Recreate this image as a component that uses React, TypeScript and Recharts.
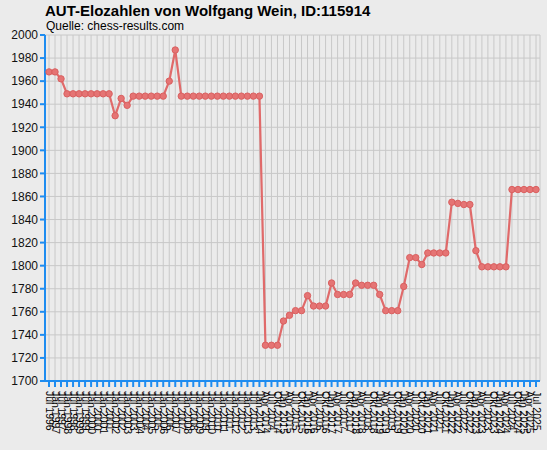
import { LineChart, Line, XAxis, YAxis, CartesianGrid } from 'recharts';

// rating list dates (half-yearly until 2014, then quarterly)
const LABELS = [
  'Jul 1996', 'Jan 1997', 'Jul 1997', 'Jan 1998', 'Jul 1998', 'Jan 1999', 'Jul 1999', 'Jan 2000',
  'Jul 2000', 'Jan 2001', 'Jul 2001', 'Jan 2002', 'Jul 2002', 'Jan 2003', 'Jul 2003', 'Jan 2004',
  'Jul 2004', 'Jan 2005', 'Jul 2005', 'Jan 2006', 'Jul 2006', 'Jan 2007', 'Jul 2007', 'Jan 2008',
  'Jul 2008', 'Jan 2009', 'Jul 2009', 'Jan 2010', 'Jul 2010', 'Jan 2011', 'Jul 2011', 'Jan 2012',
  'Jul 2012', 'Jan 2013', 'Jul 2013', 'Jan 2014',
  'Apr 2014', 'Jul 2014', 'Okt 2014', 'Jan 2015', 'Apr 2015', 'Jul 2015', 'Okt 2015', 'Jan 2016',
  'Apr 2016', 'Jul 2016', 'Okt 2016', 'Jan 2017', 'Apr 2017', 'Jul 2017', 'Okt 2017', 'Jan 2018',
  'Apr 2018', 'Jul 2018', 'Okt 2018', 'Jan 2019', 'Apr 2019', 'Jul 2019', 'Okt 2019', 'Jan 2020',
  'Apr 2020', 'Jul 2020', 'Okt 2020', 'Jan 2021', 'Apr 2021', 'Jul 2021', 'Okt 2021', 'Jan 2022',
  'Apr 2022', 'Jul 2022', 'Okt 2022', 'Jan 2023', 'Apr 2023', 'Jul 2023', 'Okt 2023', 'Jan 2024',
  'Apr 2024', 'Jul 2024', 'Okt 2024', 'Jan 2025', 'Apr 2025', 'Jul 2025',
];

const ELO = [
  1968, 1968, 1962, 1949, 1949, 1949, 1949, 1949, 1949, 1949, 1949, 1930, 1945, 1939, 1947, 1947,
  1947, 1947, 1947, 1947, 1960, 1987, 1947, 1947, 1947, 1947, 1947, 1947, 1947, 1947, 1947, 1947,
  1947, 1947, 1947, 1947,
  1731, 1731, 1731, 1752, 1757, 1761, 1761, 1774, 1765, 1765, 1765, 1785, 1775, 1775, 1775, 1785,
  1783, 1783, 1783, 1775, 1761, 1761, 1761, 1782, 1807, 1807, 1801, 1811, 1811, 1811, 1811, 1855,
  1854, 1853, 1853, 1813, 1799, 1799, 1799, 1799, 1799, 1866, 1866, 1866, 1866, 1866,
];

const Y_TICKS = [1700, 1720, 1740, 1760, 1780, 1800, 1820, 1840, 1860, 1880, 1900, 1920, 1940, 1960, 1980, 2000];

const data = LABELS.map((label, i) => ({ label, elo: ELO[i] }));

const AXIS_BLUE = '#1e8cf0';
const FONT = '"Liberation Sans", Arial, sans-serif';

const DateTick = ({ x, y, payload }: any) => (
  <g transform={`translate(${x},${y})`}>
    <text x={2} y={0} dy={3.5} transform="rotate(90)" textAnchor="start" fontSize={10.5} fill="#000" fontFamily={FONT}>
      {payload.value}
    </text>
  </g>
);

export default function App() {
  return (
    <div style={{ position: 'absolute', left: 0, top: 0, width: 547, height: 450, background: '#ebebeb', fontFamily: FONT }}>
      <div style={{ position: 'absolute', left: 45, top: 2, fontSize: 15, fontWeight: 'bold', color: '#000' }}>
        AUT-Elozahlen von Wolfgang Wein, ID:115914
      </div>
      <div style={{ position: 'absolute', left: 46, top: 19, fontSize: 12, color: '#000' }}>
        Quelle: chess-results.com
      </div>
      <LineChart width={547} height={450} data={data} margin={{ top: 35, right: 7, bottom: 0, left: 0 }}>
        <CartesianGrid stroke="#c8c8c8" strokeWidth={1} />
        <XAxis
          dataKey="label"
          interval={0}
          padding={{ left: 4, right: 4 }}
          height={69}
          tick={<DateTick />}
          tickSize={6}
          axisLine={{ stroke: AXIS_BLUE, strokeWidth: 2 }}
          tickLine={{ stroke: AXIS_BLUE, strokeWidth: 2 }}
        />
        <YAxis
          domain={[1700, 2000]}
          ticks={Y_TICKS}
          interval={0}
          width={45}
          tickSize={5}
          axisLine={{ stroke: AXIS_BLUE, strokeWidth: 2 }}
          tickLine={{ stroke: AXIS_BLUE, strokeWidth: 2 }}
          tick={{ fontSize: 12, fill: '#111', fontFamily: FONT }}
        />
        <Line
          type="linear"
          dataKey="elo"
          stroke="#e06a6a"
          strokeWidth={2.2}
          dot={{ r: 3.2, fill: '#e57474', stroke: '#da6060', strokeWidth: 1 }}
          isAnimationActive={false}
        />
      </LineChart>
    </div>
  );
}
